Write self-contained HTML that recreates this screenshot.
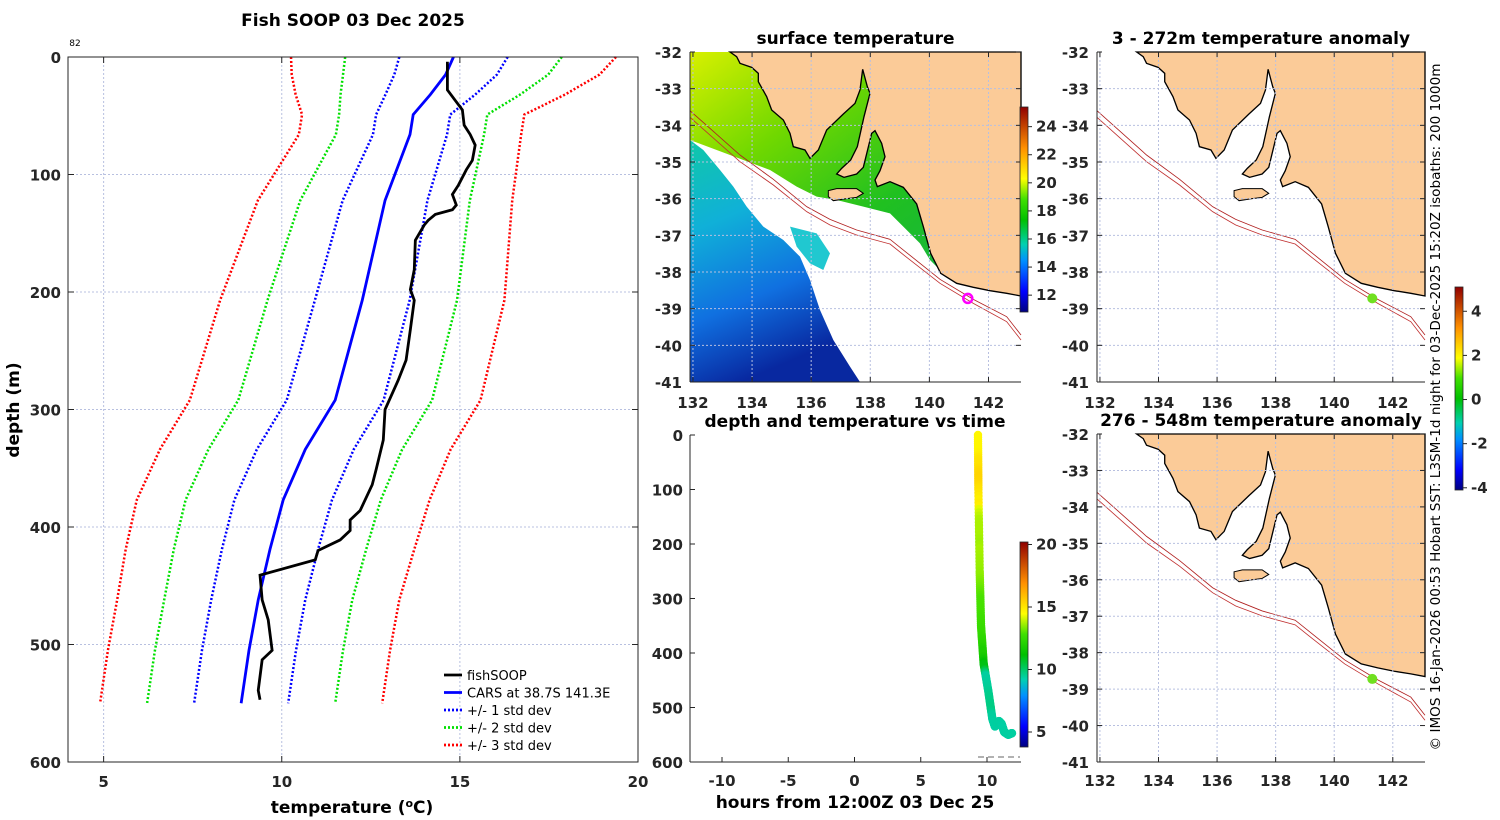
<!DOCTYPE html>
<html><head><meta charset="utf-8">
<style>
body{margin:0;background:#fff;}
svg{display:block;font-family:"DejaVu Sans","Liberation Sans",sans-serif;}
.t{font-weight:bold;fill:#262626;font-size:15px;}
.ti{font-weight:bold;fill:#000;font-size:17px;}
</style></head><body>
<svg id="fig" width="1500" height="820" viewBox="0 0 1500 820" xmlns="http://www.w3.org/2000/svg">
<defs>
<linearGradient id="jetV" x1="0" y1="1" x2="0" y2="0">
<stop offset="0" stop-color="#000080"/><stop offset="0.1" stop-color="#0000ff"/><stop offset="0.25" stop-color="#0090ff"/><stop offset="0.33" stop-color="#00d0b0"/><stop offset="0.45" stop-color="#00c000"/><stop offset="0.55" stop-color="#40e000"/><stop offset="0.65" stop-color="#ffff00"/><stop offset="0.8" stop-color="#ff9000"/><stop offset="1" stop-color="#900000"/>
</linearGradient>
<linearGradient id="greenG" x1="0" y1="0" x2="1" y2="1">
<stop offset="0" stop-color="#d8f000"/><stop offset="0.3" stop-color="#70d800"/><stop offset="0.6" stop-color="#20c020"/><stop offset="1" stop-color="#10b050"/>
</linearGradient>
<linearGradient id="blueG" x1="0" y1="0" x2="0.3" y2="1">
<stop offset="0" stop-color="#10c8a8"/><stop offset="0.35" stop-color="#10b0d8"/><stop offset="0.7" stop-color="#1070e0"/><stop offset="1" stop-color="#0828a0"/>
</linearGradient>
<g id="coast">
<path fill="#fbcb98" stroke="#000" stroke-width="4" d="M120,36 L140,50 L150,70 L185,82 L205,100 L205,125 L230,170 L245,210 L280,240 L300,280 L310,320 L345,330 L360,355 L385,330 L410,270 L460,222 L495,190 L510,150 L518,88 L532,140 L540,160 L522,230 L502,320 L482,360 L455,385 L440,402 L462,412 L500,402 L520,382 L545,280 L555,272 L575,310 L585,350 L570,392 L555,420 L562,440 L600,425 L640,442 L680,492 L700,560 L722,640 L752,700 L800,730 L850,742 L900,752 L950,760 L993,768 L993,36 Z"/>
<path fill="#fbcb98" stroke="#000" stroke-width="3" d="M415,452 L440,446 L500,446 L520,460 L500,472 L470,476 L430,482 L415,470 Z"/>
</g>
<g id="iso" fill="none" stroke-width="2.5">
<path stroke="#b02020" d="M0,212 L150,345 L250,418 L350,500 L420,538 L500,570 L600,598 L650,638 L750,718 L850,778 L950,830 L993,885"/>
<path stroke="#c03030" d="M0,232 L150,365 L250,435 L350,515 L420,555 L500,585 L600,612 L650,652 L750,730 L850,790 L950,845 L993,900"/>
</g>
</defs>
</svg>
<script>
// ---------- main profile data ----------
const carsDepth=[0,15,32,49,66,122,207,292,334,377,419,462,505,550];
const carsTemp=[14.82,14.6,14.17,13.69,13.6,12.9,12.26,11.5,10.66,10.04,9.67,9.34,9.08,8.86];
const carsStd=[1.52,1.44,1.26,1.04,1.04,1.19,1.33,1.36,1.36,1.37,1.35,1.32,1.32,1.32];
const soopDepth=[4,28,37,45,58,66,75,88,96,109,117,126,130,134,139,143,156,181,198,207,232,258,275,300,326,351,364,386,394,403,411,420,428,441,462,479,505,513,539,547];
const soopTemp=[14.65,14.65,14.87,15.07,15.12,15.29,15.43,15.35,15.18,14.96,14.79,14.9,14.79,14.31,14.11,14.0,13.75,13.72,13.61,13.72,13.61,13.49,13.27,12.9,12.85,12.65,12.54,12.2,11.92,11.92,11.64,11.02,10.94,9.39,9.45,9.62,9.73,9.45,9.34,9.39];
const xTicks=[5,10,15,20];
const yTicks=[0,100,200,300,400,500,600];
// ---------- time series ----------
const tsHours=[9.32,9.35,9.45,9.55,9.75,10.1,10.4,10.6,10.9,11.1,11.3,11.6,11.9];
const tsDepth=[0,100,250,350,420,470,520,535,525,530,545,550,547];
const tsXTicks=[-10,-5,0,5,10];
const tsCbTicks=[5,10,15,20];
// ---------- maps ----------
const lonTicks=[132,134,136,138,140,142];
const latTicks=[-32,-33,-34,-35,-36,-37,-38,-39,-40,-41];
const sstCbTicks=[12,14,16,18,20,22,24];
const anomCbTicks=[-4,-2,0,2,4];
const stationLon=[141.3];
const stationLat=[-38.72];

const svg=document.getElementById('fig');
const NS='http://www.w3.org/2000/svg';
function mk(tag,attrs,parent){const e=document.createElementNS(NS,tag);for(const k in attrs)e.setAttribute(k,attrs[k]);(parent||svg).appendChild(e);return e;}
function txt(s,x,y,cls,anchor,parent,extra){const e=mk('text',Object.assign({x:x,y:y,class:cls,'text-anchor':anchor||'middle'},extra||{}),parent);e.textContent=s;return e;}
const cmStops=[[0,[0,0,128]],[0.1,[0,0,255]],[0.25,[0,144,255]],[0.33,[0,208,176]],[0.45,[0,192,0]],[0.55,[64,224,0]],[0.65,[255,255,0]],[0.8,[255,144,0]],[1,[144,0,0]]];
function cmap(v){v=Math.max(0,Math.min(1,v));for(let i=1;i<cmStops.length;i++){if(v<=cmStops[i][0]){const a=cmStops[i-1],b=cmStops[i];const f=(v-a[0])/(b[0]-a[0]);const c=a[1].map((x,j)=>Math.round(x+f*(b[1][j]-x)));return `rgb(${c[0]},${c[1]},${c[2]})`;}}return 'rgb(144,0,0)';}

// ===== main profile chart =====
const P={l:68,r:638,t:57,b:762};
const xS=t=>P.l+(t-4)/16*(P.r-P.l);
const yS=d=>P.t+d/600*(P.b-P.t);
const main=mk('g',{});


mk('rect',{x:P.l,y:P.t,width:P.r-P.l,height:P.b-P.t,fill:'#fff'},main);
xTicks.forEach(v=>{if(v<20){const g=mk('line',{x1:xS(v),x2:xS(v),y1:P.t,y2:P.b,stroke:'#b8c0e0','stroke-dasharray':'2,2','stroke-width':1},main);}
 mk('line',{x1:xS(v),x2:xS(v),y1:P.b,y2:P.b-6,stroke:'#262626'},main);mk('line',{x1:xS(v),x2:xS(v),y1:P.t,y2:P.t+6,stroke:'#262626'},main);
 const l=txt(String(v),xS(v),787,'t','middle',main,{'font-size':16});});
yTicks.forEach(v=>{if(v>0&&v<600){const g=mk('line',{x1:P.l,x2:P.r,y1:yS(v),y2:yS(v),stroke:'#b8c0e0','stroke-dasharray':'2,2'},main);}
 mk('line',{x1:P.l,x2:P.l+6,y1:yS(v),y2:yS(v),stroke:'#262626'},main);mk('line',{x1:P.r,x2:P.r-6,y1:yS(v),y2:yS(v),stroke:'#262626'},main);
 const l=txt(String(v),61,yS(v)+6,'t','end',main,{'font-size':16});});
const sdCols=['#0000ff','#00e000','#ff0000'];
[1,2,3].forEach((k,i)=>{[-1,1].forEach(s=>{
 const pts=carsDepth.map((d,j)=>xS(carsTemp[j]+s*k*carsStd[j])+','+yS(d)).join(' ');
 const pl=mk('polyline',{points:pts,fill:'none',stroke:sdCols[i],'stroke-width':2.5,'stroke-dasharray':'2,2'},main);
 
 });});
const cars=mk('polyline',{points:carsDepth.map((d,j)=>xS(carsTemp[j])+','+yS(d)).join(' '),fill:'none',stroke:'#0000ff','stroke-width':2.8},main);


const soop=mk('polyline',{points:soopDepth.map((d,j)=>xS(soopTemp[j])+','+yS(d)).join(' '),fill:'none',stroke:'#000','stroke-width':2.8},main);


mk('rect',{x:P.l,y:P.t,width:P.r-P.l,height:P.b-P.t,fill:'none',stroke:'#262626','stroke-width':1},main);
const legItems=[['fishSOOP','#000',''],['CARS at 38.7S 141.3E','#0000ff',''],['+/- 1 std dev','#0000ff','2,2'],['+/- 2 std dev','#00e000','2,2'],['+/- 3 std dev','#ff0000','2,2']];
const leg=mk('g',{},main);
legItems.forEach((it,i)=>{const y=675+i*17.5;const ln=mk('line',{x1:444,x2:462,y1:y,y2:y,stroke:it[1],'stroke-width':2.8,'stroke-dasharray':it[2]||'none'},leg);
 const t=txt(it[0],467,y+5,'','start',leg,{'font-size':13,fill:'#000'});});
let e=txt('Fish SOOP 03 Dec 2025',353,26,'ti','middle',null,{'font-size':18});
e=txt('82',75,46,'','middle',null,{'font-size':9,fill:'#000'});
e=mk('text',{x:352,y:813,class:'ti','text-anchor':'middle','font-size':17});e.innerHTML='temperature (<tspan dy="-6" font-size="11">o</tspan><tspan dy="6">C)</tspan>';
e=txt('depth (m)',19,410,'ti','middle',null,{transform:'rotate(-90 19 410)'});

// ===== maps =====
function drawMap(name,L,T,W,H,mode,title,lonLabelY){
 const g=mk('g',{});
 const lonS=lon=>L+(lon-131.9)/(143.1-131.9)*W;
 const latS=lat=>T+(-32-lat)/9*H;
 mk('rect',{x:L,y:T,width:W,height:H,fill:'#fff'},g);
 const inner=mk('g',{transform:`translate(${L},${T}) scale(${W/993},${H/990}) translate(0,-36)`},g);
 if(mode==='sst'){
  const gr=mk('path',{fill:'url(#greenG)',d:'M0,36 L993,36 L993,768 L900,745 L800,730 L760,700 L720,660 L690,610 L640,560 L600,520 L520,500 L440,480 L380,470 L320,440 L240,390 L160,360 L80,330 L0,300 Z'},inner);
  
  const bl=mk('path',{fill:'url(#blueG)',d:'M0,300 L40,330 L90,390 L130,440 L170,500 L220,560 L280,600 L330,650 L360,720 L390,810 L430,900 L480,980 L510,1026 L0,1026 Z'},inner);
  
  const sp=mk('path',{fill:'#20c8d0',d:'M300,560 L380,580 L420,640 L400,690 L360,670 L320,620 Z'},inner);
  
 }
 mk('use',{href:'#coast'},inner);
 mk('use',{href:'#iso'},inner);
 lonTicks.forEach(v=>{const x=lonS(v);mk('line',{x1:x,x2:x,y1:T,y2:T+H,stroke:'#b8c0e0','stroke-dasharray':'2,2'},g);mk('line',{x1:x,x2:x,y1:T+H,y2:T+H-5,stroke:'#262626'},g);mk('line',{x1:x,x2:x,y1:T,y2:T+5,stroke:'#262626'},g);
  const t=txt(String(v),x,lonLabelY,'t','middle',g,{'font-size':16});});
 latTicks.forEach(v=>{const y=latS(v);if(v>-41&&v<-32)mk('line',{x1:L,x2:L+W,y1:y,y2:y,stroke:'#b8c0e0','stroke-dasharray':'2,2'},g);mk('line',{x1:L,x2:L+5,y1:y,y2:y,stroke:'#262626'},g);mk('line',{x1:L+W,x2:L+W-5,y1:y,y2:y,stroke:'#262626'},g);
  const t=txt(String(v),L-8,y+6,'t','end',g,{'font-size':16});});
 mk('line',{x1:L,x2:L+W,y1:T+H,y2:T+H,stroke:'#262626'},g);mk('line',{x1:L,x2:L,y1:T,y2:T+H,stroke:'#262626'},g);
 const st=mk('circle',mode==='sst'?{cx:lonS(stationLon[0]),cy:latS(stationLat[0]),r:4.5,fill:'none',stroke:'#ff00ff','stroke-width':2.5}:{cx:lonS(stationLon[0]),cy:latS(stationLat[0]),r:5,fill:'#70e020'},g);
 
 const tt=txt(title,L+W/2,T-8,'ti','middle',g);
}
drawMap('surface-temperature-map',690,52,331,330,'sst','surface temperature',408);
drawMap('anomaly-map-upper',1097,52,328,330,'anom','3 - 272m temperature anomaly',408);
drawMap('anomaly-map-lower',1097,434,328,328,'anom','276 - 548m temperature anomaly',786);

function colorbar(name,x,y,h,vmin,vmax,ticks){
 const g=mk('g',{});
 mk('rect',{x:x,y:y,width:8,height:h,fill:'url(#jetV)',stroke:'#262626','stroke-width':0.8},g);
 ticks.forEach(v=>{const ty=y+h-(v-vmin)/(vmax-vmin)*h;mk('line',{x1:x+8,x2:x+12,y1:ty,y2:ty,stroke:'#262626'},g);
  const t=txt(String(v),x+16,ty+5,'t','start',g,{'font-size':13});});
}
colorbar('sst-colorbar',1020,107,205,10.8,25.4,sstCbTicks);
colorbar('anomaly-colorbar',1455,287,203,-4.1,5.1,anomCbTicks);

// ===== depth/temp vs time =====
const Q={l:690,r:1021,t:435,b:762};
const hS=h=>722+(h+10)*13.25;
const dS=d=>Q.t+d/600*(Q.b-Q.t);
const ts=mk('g',{});
yTicks.forEach(v=>{mk('line',{x1:Q.l,x2:Q.l+5,y1:dS(v),y2:dS(v),stroke:'#262626'},ts);
 const t=txt(String(v),683,dS(v)+6,'t','end',ts,{'font-size':16});});
tsXTicks.forEach(v=>{mk('line',{x1:hS(v),x2:hS(v),y1:Q.b,y2:Q.b-5,stroke:'#262626'},ts);
 const t=txt(String(v),hS(v),786,'t','middle',ts,{'font-size':16});});
mk('line',{x1:Q.l,x2:Q.r,y1:Q.b,y2:Q.b,stroke:'#262626'},ts);mk('line',{x1:Q.l,x2:Q.l,y1:Q.t,y2:Q.b,stroke:'#262626'},ts);
mk('line',{x1:978,x2:1020,y1:757,y2:757,stroke:'#999','stroke-width':1.5,'stroke-dasharray':'6,4'},ts);
function tempAt(d){for(let i=1;i<soopDepth.length;i++){if(d<=soopDepth[i]){const f=(d-soopDepth[i-1])/(soopDepth[i]-soopDepth[i-1]);return soopTemp[i-1]+Math.max(0,f)*(soopTemp[i]-soopTemp[i-1]);}}return soopTemp[soopTemp.length-1];}
for(let i=1;i<tsHours.length;i++){const n=25;for(let k=0;k<n;k++){const f=k/n;const h=tsHours[i-1]+f*(tsHours[i]-tsHours[i-1]);const d=tsDepth[i-1]+f*(tsDepth[i]-tsDepth[i-1]);
 const c=mk('circle',{cx:hS(h),cy:dS(d),r:4.2,fill:cmap((tempAt(d)-3.8)/(20.2-3.8))},ts);
 
 }}
colorbar('time-colorbar',1020,542,205,3.8,20.2,tsCbTicks);
e=txt('depth and temperature vs time',855,427,'ti','middle');
e=txt('hours from 12:00Z 03 Dec 25',855,808,'ti','middle');
e=txt('© IMOS 16-Jan-2026 00:53 Hobart SST: L3SM-1d night for 03-Dec-2025 15:20Z isobaths: 200  1000m',1440,407,'','middle',null,{'font-size':13.6,fill:'#000',transform:'rotate(-90 1440 407)'});

</script>
</body></html>
